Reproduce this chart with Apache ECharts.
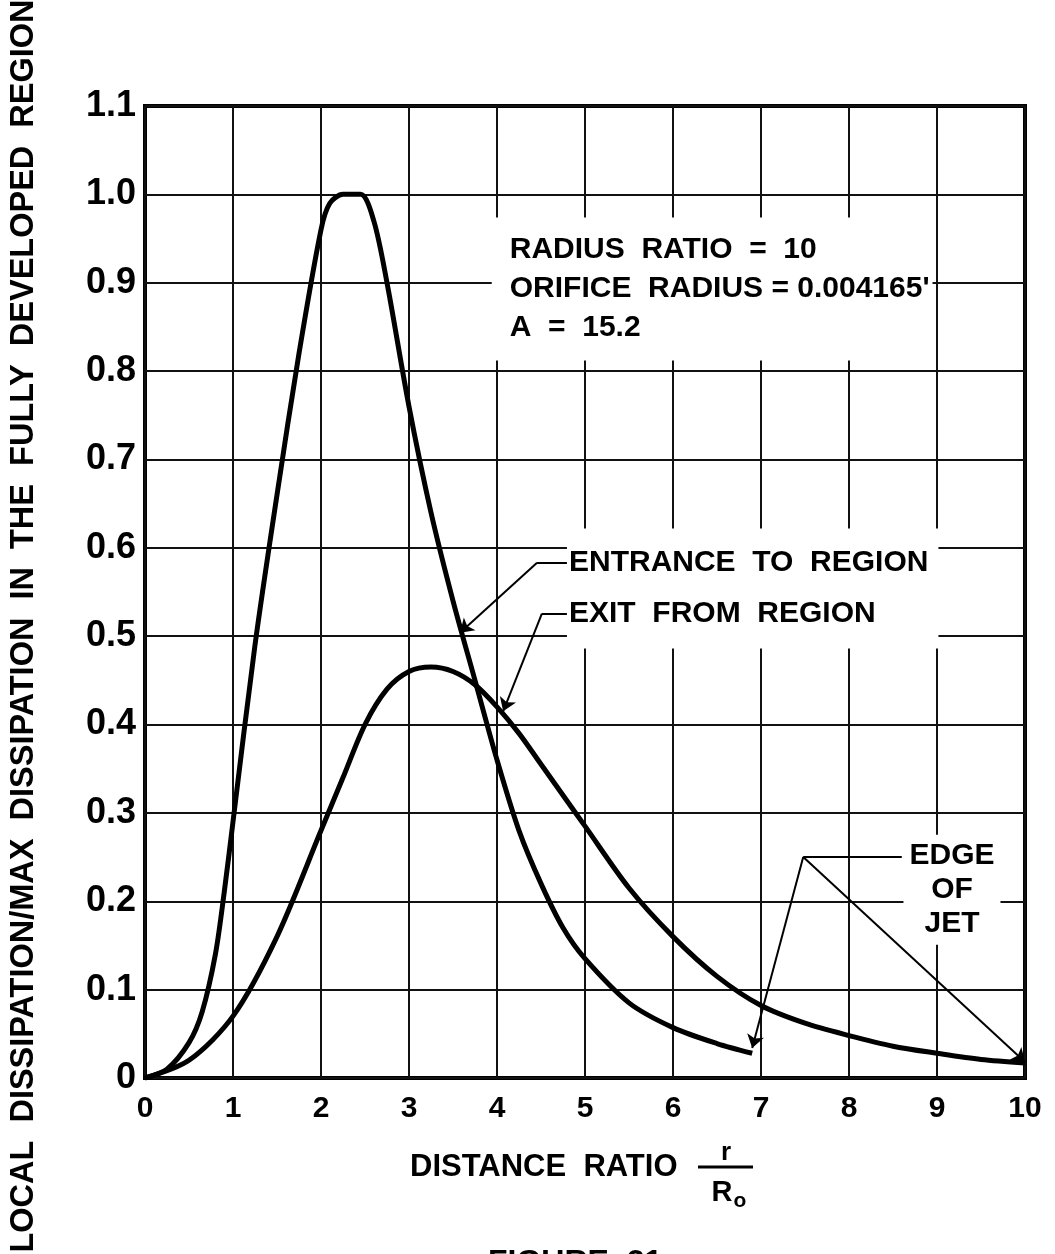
<!DOCTYPE html>
<html>
<head>
<meta charset="utf-8">
<script src="https://cdn.jsdelivr.net/npm/echarts@6/dist/echarts.min.js"></script>
<style>
  html, body { margin: 0; padding: 0; background: #fff; }
  #chart { width: 1055px; height: 1254px; }
</style>
</head>
<body>
<div id="chart"></div>
<script>
// Axis ticks
const xTickLabels = ['0', '1', '2', '3', '4', '5', '6', '7', '8', '9', '10'];
const yTickLabels = ['0', '0.1', '0.2', '0.3', '0.4', '0.5', '0.6', '0.7', '0.8', '0.9', '1.0', '1.1'];

// Entrance to the fully developed region
const entranceX = [0, 0.25, 0.5, 0.65, 0.8, 0.9, 1.0, 1.25, 1.5, 1.75, 2.0, 2.1, 2.25, 2.45, 2.6, 2.75, 3.0, 3.25, 3.5, 3.75, 4.0, 4.25, 4.5, 4.75, 5.0, 5.5, 6.0, 6.5, 6.9];
const entranceY = [0, 0.01, 0.04, 0.075, 0.14, 0.21, 0.29, 0.49, 0.66, 0.82, 0.96, 0.99, 1.0, 1.0, 0.97, 0.90, 0.76, 0.64, 0.54, 0.45, 0.36, 0.28, 0.22, 0.17, 0.135, 0.085, 0.057, 0.039, 0.028];

// Exit from the fully developed region
const exitX = [0, 0.5, 1.0, 1.5, 2.0, 2.25, 2.5, 2.75, 3.0, 3.25, 3.5, 3.75, 4.0, 4.25, 4.5, 4.75, 5.0, 5.5, 6.0, 6.5, 7.0, 7.5, 8.0, 8.5, 9.0, 9.5, 10];
const exitY = [0, 0.02, 0.07, 0.16, 0.28, 0.34, 0.40, 0.44, 0.46, 0.465, 0.46, 0.445, 0.42, 0.39, 0.355, 0.32, 0.285, 0.215, 0.16, 0.115, 0.082, 0.062, 0.048, 0.036, 0.028, 0.021, 0.017];

// Annotation text and anchor points (data units)
const paramText = 'RADIUS  RATIO  =  10\nORIFICE  RADIUS = 0.004165\'\nA  =  15.2';
const paramAt = [3.94, 0.893];
const curveNames = 'ENTRANCE  TO  REGION\nEXIT  FROM  REGION';
const curveNamesAt = [4.795, 0.554];
const edgeText = 'EDGE\nOF\nJET';
const edgeAt = [9.17, 0.213];

// Leader lines: plain segments and arrowed segments (data units)
const leaderPlain = [
  [[4.795, 0.583], [4.455, 0.583]],
  [[4.795, 0.5255], [4.51, 0.5255]],
  [[7.48, 0.25], [8.6, 0.25]]
];
const leaderArrow = [
  [[4.455, 0.583], [3.58, 0.504]],
  [[4.51, 0.5255], [4.07, 0.415]],
  [[7.48, 0.25], [6.9, 0.034]],
  [[7.48, 0.25], [10, 0.018]]
];

const FONT = '"Liberation Sans", Arial, sans-serif';
const pairs = (xs, ys) => xs.map((x, i) => [x, ys[i]]);

const chart = echarts.init(document.getElementById('chart'));

const noteLabel = (extra) => Object.assign({
  show: true,
  color: '#000',
  opacity: 1,
  fontFamily: FONT,
  fontWeight: 'bold',
  fontSize: 30,
  backgroundColor: '#fff'
}, extra);

chart.setOption({
  backgroundColor: '#fff',
  animation: false,
  grid: {
    left: 145, right: 30, top: 106, bottom: 176,
    show: true, borderColor: '#000', borderWidth: 4, backgroundColor: 'transparent'
  },
  xAxis: {
    type: 'value', min: 0, max: 10, interval: 1,
    axisLine: { show: false }, axisTick: { show: false },
    axisLabel: {
      margin: 16, color: '#000', fontFamily: FONT, fontWeight: 'bold', fontSize: 30,
      formatter: (v) => xTickLabels[Math.round(v)]
    },
    splitLine: { show: true, lineStyle: { color: '#111', width: 2 } }
  },
  yAxis: {
    type: 'value', min: 0, max: 1.1, interval: 0.1,
    axisLine: { show: false }, axisTick: { show: false },
    axisLabel: {
      margin: 9, color: '#000', fontFamily: FONT, fontWeight: 'bold', fontSize: 36,
      formatter: (v) => yTickLabels[Math.round(v * 10)]
    },
    splitLine: { show: true, lineStyle: { color: '#111', width: 2 } }
  },
  series: [
    {
      name: 'Entrance to region', type: 'line', data: pairs(entranceX, entranceY),
      smooth: 0.3, showSymbol: false, z: 5,
      lineStyle: { color: '#000', width: 5 }
    },
    {
      name: 'Exit from region', type: 'line', data: pairs(exitX, exitY),
      smooth: 0.3, showSymbol: false, z: 5,
      lineStyle: { color: '#000', width: 5 }
    },
    {
      type: 'lines', coordinateSystem: 'cartesian2d', z: 6,
      symbol: ['none', 'none'],
      lineStyle: { color: '#000', width: 2, opacity: 1 },
      data: leaderPlain.map((c) => ({ coords: c }))
    },
    {
      type: 'lines', coordinateSystem: 'cartesian2d', z: 6,
      symbol: ['none', 'arrow'], symbolSize: 13,
      lineStyle: { color: '#000', width: 2, opacity: 1 },
      data: leaderArrow.map((c) => ({ coords: c }))
    },
    {
      type: 'scatter', symbolSize: 0, z: 7, silent: true,
      itemStyle: { opacity: 1 },
      data: [
        {
          value: paramAt,
          label: noteLabel({
            formatter: paramText, position: 'right', distance: 0,
            lineHeight: 39, padding: [14, 3, 12, 18]
          })
        },
        {
          value: curveNamesAt,
          label: noteLabel({
            formatter: curveNames, position: 'right', distance: 0,
            lineHeight: 51, padding: [6, 10, 12, 2]
          })
        },
        {
          value: edgeAt,
          label: noteLabel({
            formatter: edgeText, position: 'inside', align: 'center',
            lineHeight: 34, padding: [4, 6, 4, 6]
          })
        }
      ]
    }
  ],
  graphic: [
    {
      type: 'text', x: 24, y: 626, rotation: Math.PI / 2,
      style: {
        text: 'LOCAL  DISSIPATION/MAX  DISSIPATION  IN  THE  FULLY  DEVELOPED  REGION',
        fill: '#000', font: 'bold 32.5px ' + FONT, align: 'center', verticalAlign: 'middle'
      }
    },
    {
      type: 'text', x: 410, y: 1167,
      style: { text: 'DISTANCE  RATIO', fill: '#000', font: 'bold 31px ' + FONT, align: 'left', verticalAlign: 'middle' }
    },
    {
      type: 'text', x: 726, y: 1153,
      style: { text: 'r', fill: '#000', font: 'bold 26px ' + FONT, align: 'center', verticalAlign: 'middle' }
    },
    {
      type: 'line', shape: { x1: 698, y1: 1167, x2: 753, y2: 1167 },
      style: { stroke: '#000', lineWidth: 3 }
    },
    {
      type: 'text', x: 722, y: 1193,
      style: { text: 'R', fill: '#000', font: 'bold 29px ' + FONT, align: 'center', verticalAlign: 'middle' }
    },
    {
      type: 'text', x: 740, y: 1201,
      style: { text: 'o', fill: '#000', font: 'bold 21px ' + FONT, align: 'center', verticalAlign: 'middle' }
    },
    {
      type: 'text', x: 488, y: 1247,
      style: { text: 'FIGURE  21', fill: '#000', font: 'bold 32px ' + FONT, align: 'left', verticalAlign: 'top' }
    }
  ]
});
</script>
</body>
</html>
